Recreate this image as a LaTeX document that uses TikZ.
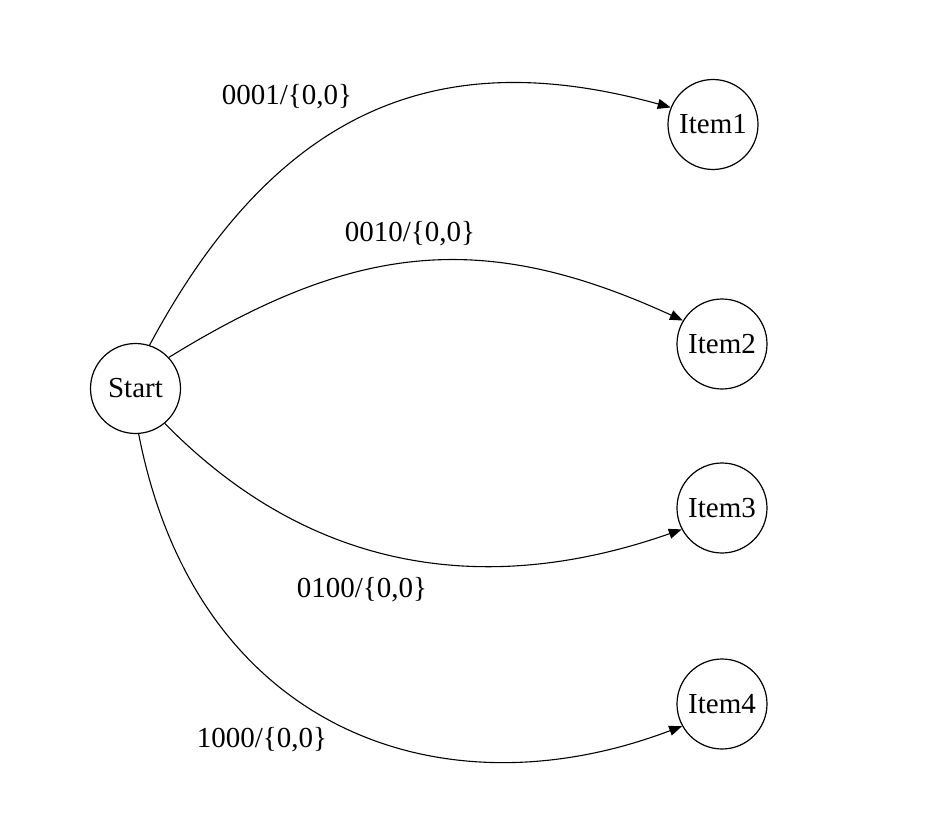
\documentclass[tikz,border=0pt]{standalone}
\usepackage{fontspec}
\setmainfont{Liberation Serif}
\usetikzlibrary{arrows.meta}
\begin{document}
\begin{tikzpicture}[x=0.5pt,y=-0.5pt,
  state/.style={circle,draw,line width=0.6pt,minimum size=45pt,inner sep=0pt,font=\fontsize{14.5}{17}\selectfont},
  edgelabel/.style={font=\fontsize{14.5}{17}\selectfont,inner sep=0pt},
  conn/.style={line width=0.55pt,-{Triangle[length=6.5pt,width=5pt]}}]
\useasboundingbox (0,0) rectangle (937,824);
\node[state] (s) at (135.5,388.5) {Start};
\node[state] (i1) at (713,124.5) {Item1};
\node[state] (i2) at (722,344) {Item2};
\node[state] (i3) at (722,508) {Item3};
\node[state] (i4) at (722,704) {Item4};
\draw[conn] (s.72) .. controls (285,92) and (455,48) .. (i1.158);
\draw[conn] (s.43) .. controls (356.4,241.7) and (485,229.8) .. (i2.149);
\draw[conn] (s.-50) .. controls (314.2,576) and (492,596) .. (i3.-152);
\draw[conn] (s.-86) .. controls (196,729) and (440,818) .. (i4.-151);
\node[edgelabel] (l1) at (287,97) {0001/\{0,0\}};
\node[edgelabel] (l2) at (410,234) {0010/\{0,0\}};
\node[edgelabel] (l3) at (362,590) {0100/\{0,0\}};
\node[edgelabel] (l4) at (262,740) {1000/\{0,0\}};
\end{tikzpicture}
\end{document}
